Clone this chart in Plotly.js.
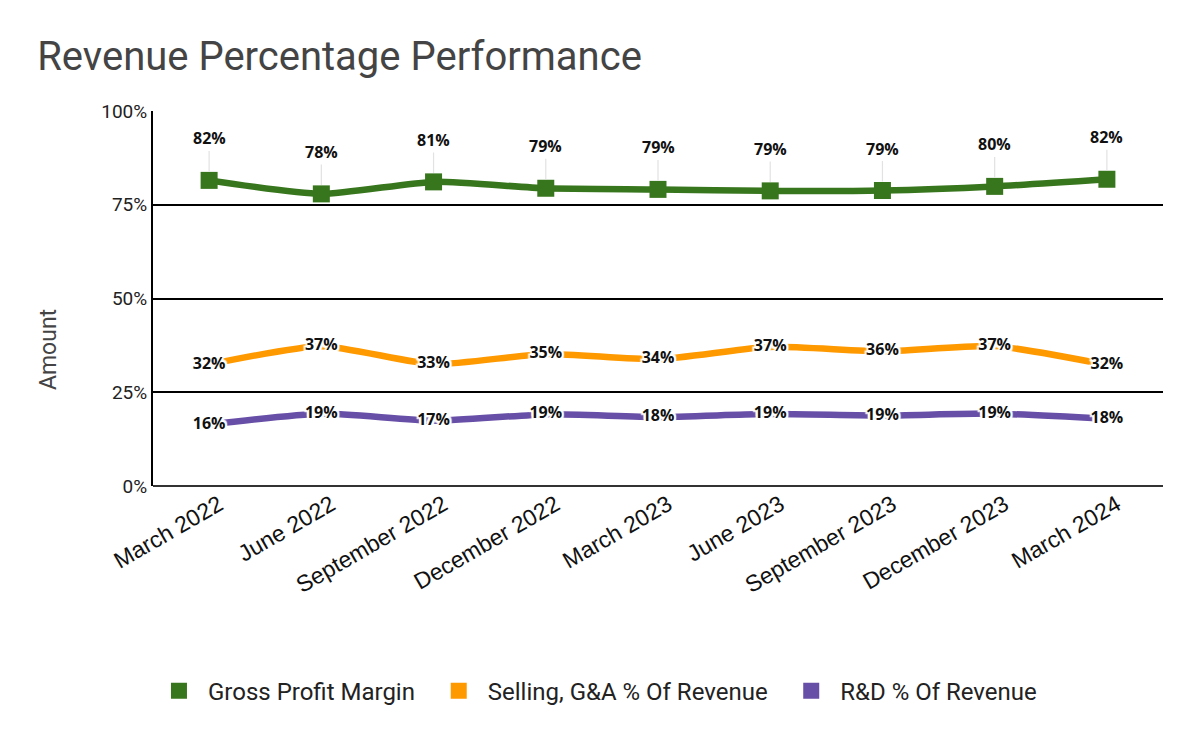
<!DOCTYPE html>
<html>
<head>
<meta charset="utf-8">
<script src="https://cdn.plot.ly/plotly-3.0.1.min.js"></script>
<style>html,body{margin:0;padding:0;background:#fff;}#chart{width:1200px;height:741px;}</style>
</head>
<body>
<div id="chart"></div>
<script>
const quarters = ["March 2022","June 2022","September 2022","December 2022","March 2023","June 2023","September 2023","December 2023","March 2024"];
const grossProfitMargin = [81.5, 77.9, 81.1, 79.4, 79.1, 78.7, 78.8, 79.9, 81.8];
const sgaPctRevenue = [32.4, 37.3, 32.5, 35.2, 33.8, 37.1, 35.9, 37.3, 32.3];
const rdPctRevenue = [16.4, 19.3, 17.4, 19.1, 18.4, 19.2, 18.8, 19.3, 17.9];
const yTickVals = [0, 25, 50, 75, 100];
const yTickText = ["0%","25%","50%","75%","100%"];

const green = "#38761d", orange = "#ff9900", purple = "#674ea7";
const pct = v => Math.round(v) + "%";
const labelShadow = "2px 0 1px #fff, -2px 0 1px #fff, 0 2px 1px #fff, 0 -2px 1px #fff, 2px 2px 1px #fff, -2px -2px 1px #fff, 2px -2px 1px #fff, -2px 2px 1px #fff";
const labelFont = {family: "Open Sans, sans-serif", size: 16, color: "#111", weight: 700};

const traces = [
  {x: quarters, y: grossProfitMargin, mode: "lines+markers", type: "scatter", name: "Gross Profit Margin",
   line: {color: green, width: 6.5, shape: "spline", smoothing: 0.6},
   marker: {symbol: "square", size: 17, color: green}, showlegend: false, hoverinfo: "skip"},
  {x: quarters, y: sgaPctRevenue, mode: "lines+text", type: "scatter", name: "Selling, G&A % Of Revenue",
   line: {color: orange, width: 6.5, shape: "spline", smoothing: 0.6},
   text: sgaPctRevenue.map(pct), textposition: "middle center",
   textfont: Object.assign({}, labelFont, {shadow: labelShadow}), showlegend: false, hoverinfo: "skip"},
  {x: quarters, y: rdPctRevenue, mode: "lines+text", type: "scatter", name: "R&D % Of Revenue",
   line: {color: purple, width: 6.5, shape: "spline", smoothing: 0.6},
   text: rdPctRevenue.map(pct), textposition: "middle center",
   textfont: Object.assign({}, labelFont, {shadow: labelShadow}), showlegend: false, hoverinfo: "skip"}
];
// legend entries (square swatches), each in its own legend for spacing
const legendNames = ["Gross Profit Margin", "Selling, G&A % Of Revenue", "R&D % Of Revenue"];
const legendColors = [green, orange, purple];
const legendIds = ["legend", "legend2", "legend3"];
legendNames.forEach((n, i) => {
  traces.push({x: [null], y: [null], mode: "markers", type: "scatter", name: n, legend: legendIds[i],
    marker: {symbol: "square", size: 16, color: legendColors[i]}, showlegend: true});
});

const annotations = quarters.map((q, i) => ({
  x: q, y: grossProfitMargin[i], xref: "x", yref: "y",
  text: pct(grossProfitMargin[i]), showarrow: true, arrowhead: 0, arrowwidth: 1.2,
  arrowcolor: "#e2e2e2", ax: 0, ay: -42, standoff: 9,
  font: {family: "Open Sans, sans-serif", size: 16, color: "#111", weight: 700}
}));
annotations.push({text: "Amount", xref: "paper", yref: "paper", x: -0.104, y: 0.365,
  xanchor: "center", yanchor: "middle", textangle: -90, showarrow: false,
  font: {family: "Roboto, sans-serif", size: 23, color: "#444"}});

const legendBase = {orientation: "h", y: -0.547, yanchor: "middle", xanchor: "left", itemwidth: 48,
  font: {family: "Roboto, sans-serif", size: 24, color: "#222"}, bgcolor: "rgba(0,0,0,0)"};

const layout = {
  width: 1200, height: 741,
  margin: {l: 153, r: 37, t: 111, b: 255},
  paper_bgcolor: "#fff", plot_bgcolor: "#fff",
  title: {text: "Revenue Percentage Performance", x: 0.031, xanchor: "left", y: 0.925, yanchor: "middle",
    font: {family: "Roboto, sans-serif", size: 40, color: "#444"}},
  xaxis: {type: "category", range: [-0.5, 8.5], showgrid: false, zeroline: false, showline: false,
    tickangle: -30, ticks: "", ticklen: 0, ticklabelshift: 10,
    tickfont: {family: "Liberation Sans, Arial, sans-serif", size: 23, color: "#111"}},
  yaxis: {range: [0, 100], tickvals: yTickVals, ticktext: yTickText, showgrid: true,
    gridcolor: "#000", gridwidth: 2, zeroline: true, zerolinecolor: "#333", zerolinewidth: 2,
    showline: true, linecolor: "#000", linewidth: 2, ticks: "", ticklen: 0,
    tickfont: {family: "Roboto, sans-serif", size: 19, color: "#222"}},
  legend: Object.assign({}, legendBase, {x: -0.003}),
  legend2: Object.assign({}, legendBase, {x: 0.274}),
  legend3: Object.assign({}, legendBase, {x: 0.623}),
  annotations: annotations,
  showlegend: true
};

Plotly.newPlot("chart", traces, layout, {displayModeBar: false, staticPlot: true});
</script>
</body>
</html>
